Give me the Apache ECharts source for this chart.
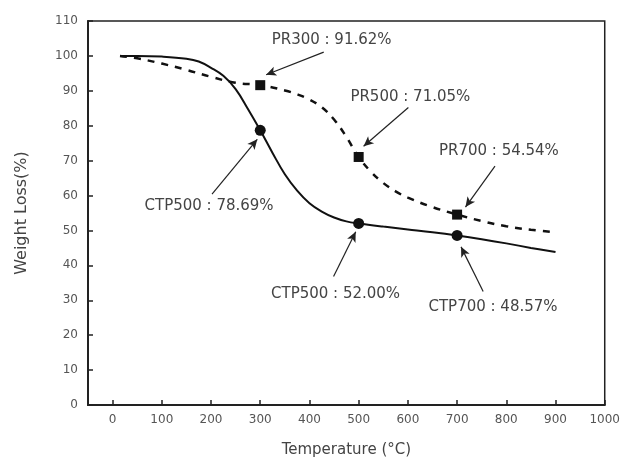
<!DOCTYPE html>
<html>
<head>
<meta charset="utf-8">
<script src="https://cdn.jsdelivr.net/npm/echarts@6/dist/echarts.min.js"></script>
<style>
    html, body { margin: 0; padding: 0; background: #fff; }
    #chart { width: 623px; height: 463px; }
</style>
</head>
<body>
<div id="chart"></div>
<script>
// 曲线数据
var ctpTemp = [15, 50, 100, 150, 175, 200, 225, 250, 275, 300, 325, 350, 375, 400, 425, 450, 475, 500, 550, 600, 650, 700, 750, 800, 850, 900];
var ctpLoss = [100, 100, 99.8, 99.2, 98.4, 96.6, 94.3, 90.5, 84.8, 78.69, 72.2, 66.1, 61.4, 57.8, 55.4, 53.7, 52.6, 52.0, 51.1, 50.3, 49.5, 48.57, 47.5, 46.3, 45.0, 43.8];

var prTemp = [15, 50, 100, 150, 200, 250, 300, 350, 375, 400, 425, 450, 475, 500, 525, 550, 575, 600, 650, 700, 750, 800, 850, 900];
var prLoss = [100, 99.3, 97.8, 96.0, 94.0, 92.3, 91.62, 90.1, 89.0, 87.5, 85.3, 81.8, 76.8, 71.05, 66.8, 63.6, 61.2, 59.4, 56.7, 54.54, 52.7, 51.2, 50.2, 49.5];

// 标记点
var markTemp = [300, 500, 700];
var ctpMarks = [78.69, 52.00, 48.57];
var prMarks = [91.62, 71.05, 54.54];

// 坐标轴刻度
var xTicks = [0, 100, 200, 300, 400, 500, 600, 700, 800, 900, 1000];

// 标注文字
var noteTexts = ['PR300 : 91.62%', 'PR500 : 71.05%', 'PR700 : 54.54%', 'CTP500 : 78.69%', 'CTP500 : 52.00%', 'CTP700 : 48.57%'];

// 标注位置 (数据坐标): 文字中心, 箭头起点, 箭头终点
var noteLayout = [
    { at: [445, 104.6], from: [429, 101.1], to: [312, 94.6] },
    { at: [605, 88.3], from: [601, 85.2], to: [510, 74.1] },
    { at: [785, 72.6], from: [777, 68.4], to: [717, 56.7] },
    { at: [196, 57.0], from: [202, 60.4], to: [294, 76.1] },
    { at: [453, 31.9], from: [449, 36.8], to: [494, 49.6] },
    { at: [773, 27.9], from: [753, 32.5], to: [708, 45.3] }
];

let zip = (xs, ys) => xs.map((x, i) => [x, ys[i]]);

let chart = echarts.init(document.getElementById('chart'));

let axisFont = { color: '#555', fontSize: 12, fontFamily: 'DejaVu Sans' };

let option = {
    animation: false,
    backgroundColor: '#fff',
    grid: {
        left: 88, top: 21, right: 16, bottom: 56,
        show: true,
        borderColor: '#222',
        borderWidth: 1.5
    },
    xAxis: {
        type: 'value',
        min: -50,
        max: 1000,
        name: 'Temperature (°C)',
        nameLocation: 'middle',
        nameGap: 38,
        nameTextStyle: { color: '#444', fontSize: 15, fontFamily: 'DejaVu Sans' },
        axisLine: { onZero: false, lineStyle: { color: '#222', width: 2 } },
        axisTick: { inside: true, length: 5, customValues: xTicks, lineStyle: { color: '#222', width: 1.5 } },
        axisLabel: Object.assign({ customValues: xTicks, margin: 9, formatter: v => String(v) }, axisFont),
        splitLine: { show: false }
    },
    yAxis: {
        type: 'value',
        min: 0,
        max: 110,
        interval: 10,
        name: 'Weight Loss(%)',
        nameLocation: 'middle',
        nameGap: 58,
        nameTextStyle: { color: '#444', fontSize: 16, fontFamily: 'DejaVu Sans' },
        axisLine: { show: true, onZero: false, lineStyle: { color: '#222', width: 2 } },
        axisTick: { show: true, inside: true, length: 5, lineStyle: { color: '#222', width: 1.5 } },
        axisLabel: Object.assign({ margin: 10 }, axisFont),
        splitLine: { show: false }
    },
    series: [
        {
            name: 'CTP',
            type: 'line',
            data: zip(ctpTemp, ctpLoss),
            smooth: 0.4,
            showSymbol: false,
            lineStyle: { color: '#111', width: 2 }
        },
        {
            name: 'PR',
            type: 'line',
            data: zip(prTemp, prLoss),
            smooth: 0.4,
            showSymbol: false,
            lineStyle: { color: '#111', width: 2.5, type: [7, 7] }
        },
        {
            type: 'scatter',
            data: zip(markTemp, ctpMarks),
            symbol: 'circle',
            symbolSize: 11,
            itemStyle: { color: '#111', opacity: 1 },
            z: 5
        },
        {
            type: 'scatter',
            data: zip(markTemp, prMarks),
            symbol: 'rect',
            symbolSize: 10,
            itemStyle: { color: '#111', opacity: 1 },
            z: 5,
            // 箭头
            markLine: {
                silent: true,
                symbol: ['none', 'arrow'],
                symbolSize: [7, 10],
                label: { show: false },
                lineStyle: { color: '#222', width: 1.2, type: 'solid' },
                data: noteLayout.map(n => [{ coord: n.from }, { coord: n.to }])
            },
            // 文字
            markPoint: {
                silent: true,
                symbol: 'circle',
                symbolSize: 0,
                label: {
                    show: true,
                    position: 'inside',
                    color: '#444',
                    fontSize: 15,
                    fontFamily: 'DejaVu Sans',
                    formatter: p => p.name
                },
                data: noteLayout.map((n, i) => ({ name: noteTexts[i], coord: n.at }))
            }
        }
    ]
};

chart.setOption(option);
</script>
</body>
</html>
